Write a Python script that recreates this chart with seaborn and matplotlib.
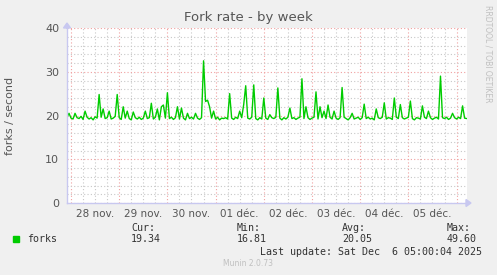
import numpy as np
import pandas as pd
import matplotlib
matplotlib.use("Agg")
import matplotlib.pyplot as plt
import matplotlib.dates as mdates
import seaborn as sns

# ---- data (hourly averages) ----
start_time = "2025-11-27 22:00"
forks = [
    19.6, 20.5, 19.4, 19.2, 20.5, 19.5, 19.3, 19.8, 19.1, 21.0,
    19.6, 19.2, 19.5, 19.0, 19.7, 19.4, 24.8, 19.6, 21.5, 19.3,
    19.5, 21.0, 19.2, 19.4, 19.8, 24.8, 19.5, 19.1, 22.0, 19.4,
    21.0, 19.3, 19.0, 20.8, 19.5, 19.2, 19.6, 19.1, 19.4, 21.0,
    19.3, 19.5, 22.8, 19.2, 19.6, 21.5, 19.0, 22.0, 22.4, 19.4,
    25.2, 19.3, 19.6, 19.1, 19.5, 22.0, 19.2, 21.7, 19.4, 19.0,
    20.5, 19.3, 19.6, 19.2, 20.5, 19.4, 19.1, 19.5, 32.5, 23.2,
    23.5, 22.0, 19.4, 21.0, 19.2, 19.6, 19.0, 19.4, 19.3, 19.5,
    19.2, 25.0, 19.4, 19.1, 19.6, 19.3, 21.0, 19.5, 22.5, 26.8,
    19.4, 19.2, 19.6, 27.0, 19.3, 19.0, 19.5, 19.2, 24.0, 19.4,
    19.1, 20.2, 19.5, 19.3, 19.6, 26.3, 19.4, 19.0, 19.5, 19.2,
    19.6, 21.7, 19.3, 19.5, 19.1, 19.4, 19.6, 28.4, 19.3, 22.0,
    19.5, 19.1, 19.4, 19.6, 25.4, 19.2, 22.0, 19.5, 21.0, 19.3,
    22.4, 19.6, 19.2, 21.0, 19.4, 19.1, 19.5, 26.4, 19.6, 19.3,
    19.0, 19.5, 20.5, 19.2, 19.4, 19.6, 19.1, 19.5, 22.6, 19.3,
    19.6, 19.2, 19.4, 19.0, 21.5, 19.5, 19.3, 19.6, 22.9, 19.2,
    19.5, 19.4, 19.1, 24.0, 19.6, 19.3, 22.5, 19.5, 19.2, 19.4,
    19.6, 23.3, 19.3, 19.0, 19.5, 19.4, 19.2, 22.2, 19.6, 19.3,
    21.0, 19.5, 19.1, 19.4, 19.6, 19.2, 29.0, 19.5, 19.3, 19.6,
    19.1, 19.4, 20.5, 19.5, 19.2, 19.6, 19.3, 22.2, 19.4, 19.3,
]
day_labels = ["28 nov.", "29 nov.", "30 nov.", "01 déc.", "02 déc.",
              "03 déc.", "04 déc.", "05 déc."]
y_ticks = [0, 10, 20, 30, 40]
series_name = "forks"
stat_names = ["Cur:", "Min:", "Avg:", "Max:"]
stat_values = ["19.34", "16.81", "20.05", "49.60"]

times = pd.date_range(start_time, periods=len(forks), freq="h")
df = pd.DataFrame({"time": times, "value": forks})

sns.set_style("white")
plt.rcParams["font.family"] = ["DejaVu Sans"]

W, H = 497, 275
fig = plt.figure(figsize=(W / 100, H / 100), dpi=100)
fig.patch.set_facecolor("#F0F0F0")

L, R, T, B = 67, 467, 28, 203
ax = fig.add_axes([L / W, 1 - B / H, (R - L) / W, (B - T) / H])
ax.set_facecolor("white")

xmin = pd.Timestamp("2025-11-27 22:00")
xmax = pd.Timestamp("2025-12-06 05:12")
ax.set_xlim(mdates.date2num(xmin), mdates.date2num(xmax))
ax.set_ylim(0, 40)

MAJ = "#F0A0A0"
MIN = "#C8C8C8"

# grid
ax.xaxis.set_major_locator(mdates.DayLocator())
ax.xaxis.set_minor_locator(mdates.HourLocator(byhour=[0, 6, 12, 18]))
ax.yaxis.set_major_locator(matplotlib.ticker.FixedLocator(y_ticks))
ax.yaxis.set_minor_locator(matplotlib.ticker.MultipleLocator(2))
ax.grid(which="minor", color=MIN, linestyle=(0, (1, 2)), linewidth=0.8)
ax.grid(which="major", color=MAJ, linestyle=(0, (1, 2)), linewidth=0.8)
ax.set_axisbelow(True)

sns.lineplot(data=df, x="time", y="value", ax=ax, color="#00CC00",
             linewidth=1.0, legend=False)

ax.set_xlabel("")
ax.set_ylabel("")
ax.set_xticklabels([])
ax.tick_params(axis="both", which="major", length=2.2, width=0.8,
               direction="out", color=MAJ)
ax.tick_params(axis="both", which="minor", length=2.2, width=0.8,
               direction="out", color=MIN)
ax.tick_params(axis="y", labelsize=8, labelcolor="#555555", pad=3.5)
ax.set_yticklabels([str(v) for v in y_ticks])

for s in ["top", "right"]:
    ax.spines[s].set_visible(False)
for s in ["left", "bottom"]:
    ax.spines[s].set_color("#C8C8F0")
    ax.spines[s].set_linewidth(1.0)

# y label
fig.text(10.5 / W, 1 - 115.5 / H, "forks / second", rotation=90,
         ha="center", va="center", fontsize=8, color="#555555")

# day labels centered at noon
for k, lab in enumerate(day_labels):
    t = pd.Timestamp("2025-11-28 12:00") + pd.Timedelta(days=k)
    ax.text(mdates.date2num(t), -0.035, lab, transform=ax.get_xaxis_transform(),
            ha="center", va="top", fontsize=7.5, color="#555555")

# axis arrows
fig.patches.append(matplotlib.patches.FancyArrow(
    (R - 1) / W, 1 - B / H, 5 / W, 0, width=0, head_width=7 / H, head_length=5 / W,
    length_includes_head=True, color="#C8C8F0", transform=fig.transFigure))
fig.patches.append(matplotlib.patches.FancyArrow(
    L / W, 1 - (T + 1) / H, 0, 6 / H, width=0, head_width=7 / W, head_length=5 / H,
    length_includes_head=True, color="#C8C8F0", transform=fig.transFigure))

# title
fig.text(248 / W, 1 - 18 / H, "Fork rate - by week", ha="center", va="center",
         fontsize=9.5, color="#555555")
# rrdtool watermark
fig.text(488 / W, 1 - 54 / H, "RRDTOOL / TOBI OETIKER", ha="center", va="center",
         rotation=-90, fontsize=5.5, color="#C0C0C0")

# legend
mono = "DejaVu Sans Mono"
fig.patches.append(matplotlib.patches.Rectangle(
    (13 / W, 1 - 242 / H), 6 / W, 6 / H, color="#00CC00", transform=fig.transFigure))
fig.text(27 / W, 1 - 239 / H, series_name, family=mono, fontsize=7.2,
         color="#333333", va="center", ha="left")
cols = [131, 237, 342, 447]
for cx, nm, val in zip(cols, stat_names, stat_values):
    fig.text(cx / W, 1 - 228 / H, nm, family=mono, fontsize=7.2,
             color="#333333", va="center", ha="left")
    fig.text(cx / W, 1 - 239 / H, val, family=mono, fontsize=7.2,
             color="#333333", va="center", ha="left")
fig.text(482 / W, 1 - 252 / H, "Last update: Sat Dec  6 05:00:04 2025",
         family=mono, fontsize=7.2, color="#333333", va="center", ha="right")
fig.text(248 / W, 1 - 264 / H, "Munin 2.0.73", fontsize=5.5, color="#C0C0C0",
         va="center", ha="center")

fig.savefig("out.png", dpi=100, facecolor=fig.get_facecolor())
